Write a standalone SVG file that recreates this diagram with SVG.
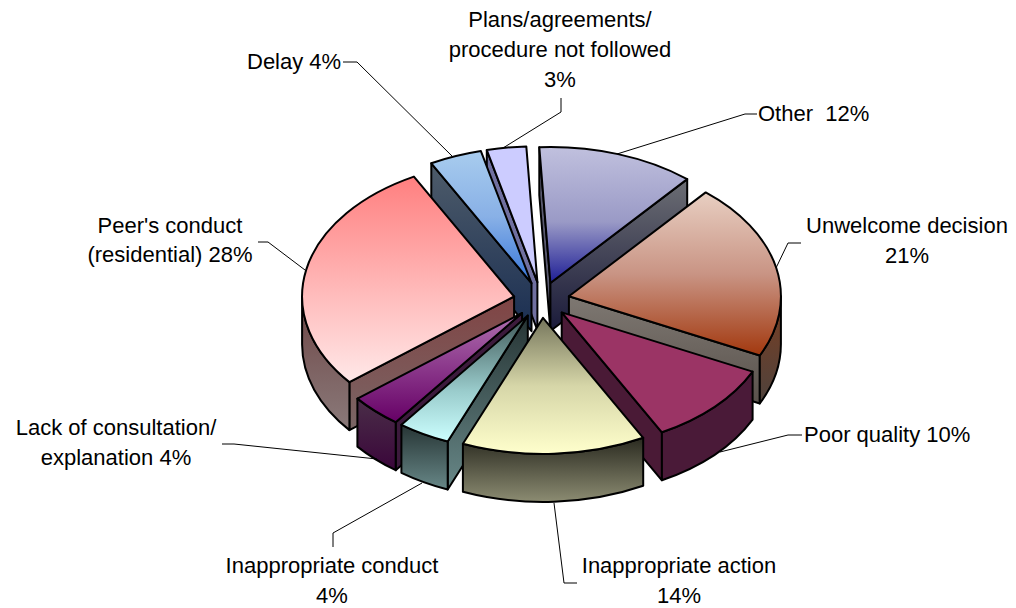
<svg xmlns="http://www.w3.org/2000/svg" width="1016" height="608" viewBox="0 0 1016 608">
<style>
.lbl{font-family:"Liberation Sans",Arial,sans-serif;font-size:22px;fill:#000}
.mid{text-anchor:middle}
.ld{fill:none;stroke:#000;stroke-width:1}
.f{stroke:#000;stroke-width:2;stroke-linejoin:round}
</style>
<defs>
<linearGradient id="gOtherT" x1="0" y1="0" x2="0" y2="1"><stop offset="0" stop-color="#C0C0DE"/><stop offset="0.55" stop-color="#9A9AC6"/><stop offset="1" stop-color="#1E1E96"/></linearGradient>
<linearGradient id="gOtherS" x1="0" y1="0" x2="0" y2="1"><stop offset="0" stop-color="#6C6E74"/><stop offset="1" stop-color="#1A1A3A"/></linearGradient>
<linearGradient id="gUnwT" x1="0" y1="0" x2="0" y2="1"><stop offset="0" stop-color="#E8CFC2"/><stop offset="0.5" stop-color="#C99484"/><stop offset="1" stop-color="#A2380E"/></linearGradient>
<linearGradient id="gUnwS" x1="0" y1="0" x2="0" y2="1"><stop offset="0" stop-color="#7E7872"/><stop offset="1" stop-color="#5A524C"/></linearGradient>
<linearGradient id="gUnwO" x1="0" y1="0" x2="0" y2="1"><stop offset="0" stop-color="#7A3E22"/><stop offset="1" stop-color="#4E423C"/></linearGradient>
<linearGradient id="gActT" x1="0" y1="0" x2="0" y2="1"><stop offset="0" stop-color="#76765C"/><stop offset="0.5" stop-color="#D6D6A8"/><stop offset="1" stop-color="#FFFFCC"/></linearGradient>
<linearGradient id="gActO" x1="0" y1="0" x2="0" y2="1"><stop offset="0" stop-color="#2A2A20"/><stop offset="1" stop-color="#8C8C72"/></linearGradient>
<linearGradient id="gConT" x1="0" y1="0" x2="0" y2="1"><stop offset="0" stop-color="#3E5656"/><stop offset="0.6" stop-color="#9ACCCC"/><stop offset="1" stop-color="#CCFFFF"/></linearGradient>
<linearGradient id="gConS" x1="0" y1="0" x2="0" y2="1"><stop offset="0" stop-color="#263434"/><stop offset="1" stop-color="#688888"/></linearGradient>
<linearGradient id="gLackT" x1="0" y1="0" x2="0" y2="1"><stop offset="0" stop-color="#B070B0"/><stop offset="1" stop-color="#660066"/></linearGradient>
<linearGradient id="gLackO" x1="0" y1="0" x2="0" y2="1"><stop offset="0" stop-color="#4A2E48"/><stop offset="1" stop-color="#3A063A"/></linearGradient>
<linearGradient id="gPeerT" x1="0" y1="0" x2="0" y2="1"><stop offset="0" stop-color="#FF7F7F"/><stop offset="1" stop-color="#FFE8E8"/></linearGradient>
<linearGradient id="gPeerS" x1="0" y1="0" x2="0" y2="1"><stop offset="0" stop-color="#804444"/><stop offset="1" stop-color="#7A6666"/></linearGradient>
<linearGradient id="gPeerO" x1="0" y1="0" x2="0" y2="1"><stop offset="0" stop-color="#6E4646"/><stop offset="1" stop-color="#8A7A7A"/></linearGradient>
<linearGradient id="gDelT" x1="0" y1="0" x2="0" y2="1"><stop offset="0" stop-color="#A8CCEE"/><stop offset="0.5" stop-color="#88B0E6"/><stop offset="1" stop-color="#3676DA"/></linearGradient>
<linearGradient id="gDelS" x1="0" y1="0" x2="0" y2="1"><stop offset="0" stop-color="#4E5C6A"/><stop offset="1" stop-color="#1A2E52"/></linearGradient>
</defs>
<rect width="1016" height="608" fill="#fff"/>

<g id="slice-plans">
<path class="f" fill="#7070A0" d="M537.4 282.2 L486.8 150.1 L486.8 198.1 L537.4 330.2 Z"/>
<path class="f" fill="#CCCCFF" d="M537.4 282.2 L486.8 150.1 A212 136 0 0 1 526.3 146.4 Z"/>
</g>
<g id="slice-other">
<path class="f" fill="#5A5A70" d="M550.4 283 L539.3 147.2 L539.3 195.2 L550.4 331 Z"/>
<path class="f" fill="url(#gOtherS)" d="M550.4 283 L687.2 179.1 L687.2 227.1 L550.4 331 Z"/>
<path class="f" fill="url(#gOtherT)" d="M550.4 283 L539.3 147.2 A212 136 0 0 1 687.2 179.1 Z"/>
</g>
<g id="slice-delay">
<path class="f" fill="url(#gDelS)" d="M531.5 283.2 L431.3 163.3 L431.3 211.3 L531.5 331.2 Z"/>
<path class="f" fill="url(#gDelT)" d="M531.5 283.2 L431.3 163.3 A212 136 0 0 1 480.9 151.1 Z"/>
</g>
<g id="slice-unwelcome">
<path class="f" fill="url(#gUnwS)" d="M568.9 296.3 L759.8 355.5 L759.8 403.5 L568.9 344.3 Z"/>
<path class="f" fill="url(#gUnwO)" d="M780.9 296.3 A212 136 0 0 1 759.8 355.5 L759.8 403.5 A212 136 0 0 0 780.9 344.3 Z"/>
<path class="f" fill="url(#gUnwT)" d="M568.9 296.3 L705.7 192.4 A212 136 0 0 1 759.8 355.5 Z"/>
</g>
<g id="slice-peer">
<path class="f" fill="url(#gPeerS)" d="M514.1 296.5 L349.4 382.1 L349.4 430.1 L514.1 344.5 Z"/>
<path class="f" fill="url(#gPeerO)" d="M349.4 382.1 A212 136 0 0 1 302.1 296.5 L302.1 344.5 A212 136 0 0 0 349.4 430.1 Z"/>
<path class="f" fill="url(#gPeerT)" d="M514.1 296.5 L349.4 382.1 A212 136 0 0 1 413.9 176.6 Z"/>
</g>
<g id="slice-poor">
<path class="f" fill="#4A1A36" d="M561.7 312.4 L661.9 432.3 L661.9 480.3 L561.7 360.4 Z"/>
<path class="f" fill="#4A1A38" d="M752.6 371.6 A212 136 0 0 1 661.9 432.3 L661.9 480.3 A212 136 0 0 0 752.6 419.6 Z"/>
<path class="f" fill="#9B3465" d="M561.7 312.4 L752.6 371.6 A212 136 0 0 1 661.9 432.3 Z"/>
</g>
<g id="slice-lack">
<path class="f" fill="#3C1A3C" d="M522.1 313 L395.7 422.2 L395.7 470.2 L522.1 361 Z"/>
<path class="f" fill="url(#gLackO)" d="M395.7 422.2 A212 136 0 0 1 357.4 398.6 L357.4 446.6 A212 136 0 0 0 395.7 470.2 Z"/>
<path class="f" fill="url(#gLackT)" d="M522.1 313 L395.7 422.2 A212 136 0 0 1 357.4 398.6 Z"/>
</g>
<g id="slice-conduct">
<path class="f" fill="url(#gConS)" d="M527.8 315.6 L447.7 441.5 L447.7 489.5 L527.8 363.6 Z"/>
<path class="f" fill="url(#gConS)" d="M447.7 441.5 A212 136 0 0 1 401.4 424.8 L401.4 472.8 A212 136 0 0 0 447.7 489.5 Z"/>
<path class="f" fill="url(#gConT)" d="M527.8 315.6 L447.7 441.5 A212 136 0 0 1 401.4 424.8 Z"/>
</g>
<g id="slice-action">
<path class="f" fill="url(#gActO)" d="M643.2 437.8 A212 136 0 0 1 462.9 443.8 L462.9 491.8 A212 136 0 0 0 643.2 485.8 Z"/>
<path class="f" fill="url(#gActT)" d="M543 317.9 L643.2 437.8 A212 136 0 0 1 462.9 443.8 Z"/>
</g>

<g id="connectors">
<polyline class="ld" points="343,62 357,62 453,157"/>
<polyline class="ld" points="561,98 561,112 503,148"/>
<polyline class="ld" points="757,114 745,114 617,154"/>
<polyline class="ld" points="801,243 788,243 776,268"/>
<polyline class="ld" points="258,242 268,242 305,270"/>
<polyline class="ld" points="222,444 234,444 377,459"/>
<polyline class="ld" points="333,547 333,533 422,483"/>
<polyline class="ld" points="577,583 564,583 554,503"/>
<polyline class="ld" points="802,435 788,435 720,452"/>
</g>

<g id="labels">
<text class="lbl mid" x="560" y="27">Plans/agreements/</text>
<text class="lbl mid" x="560" y="57">procedure not followed</text>
<text class="lbl mid" x="560" y="87">3%</text>
<text class="lbl" x="247" y="69">Delay 4%</text>
<text class="lbl" x="758" y="121" xml:space="preserve">Other  12%</text>
<text class="lbl mid" x="907" y="233">Unwelcome decision</text>
<text class="lbl mid" x="907" y="263">21%</text>
<text class="lbl mid" x="170" y="233">Peer's conduct</text>
<text class="lbl mid" x="170" y="262">(residential) 28%</text>
<text class="lbl mid" x="116" y="435">Lack of consultation/</text>
<text class="lbl mid" x="116" y="465">explanation 4%</text>
<text class="lbl" x="804" y="442">Poor quality 10%</text>
<text class="lbl mid" x="332" y="573">Inappropriate conduct</text>
<text class="lbl mid" x="332" y="603">4%</text>
<text class="lbl mid" x="679" y="573">Inappropriate action</text>
<text class="lbl mid" x="679" y="603">14%</text>
</g>
</svg>
